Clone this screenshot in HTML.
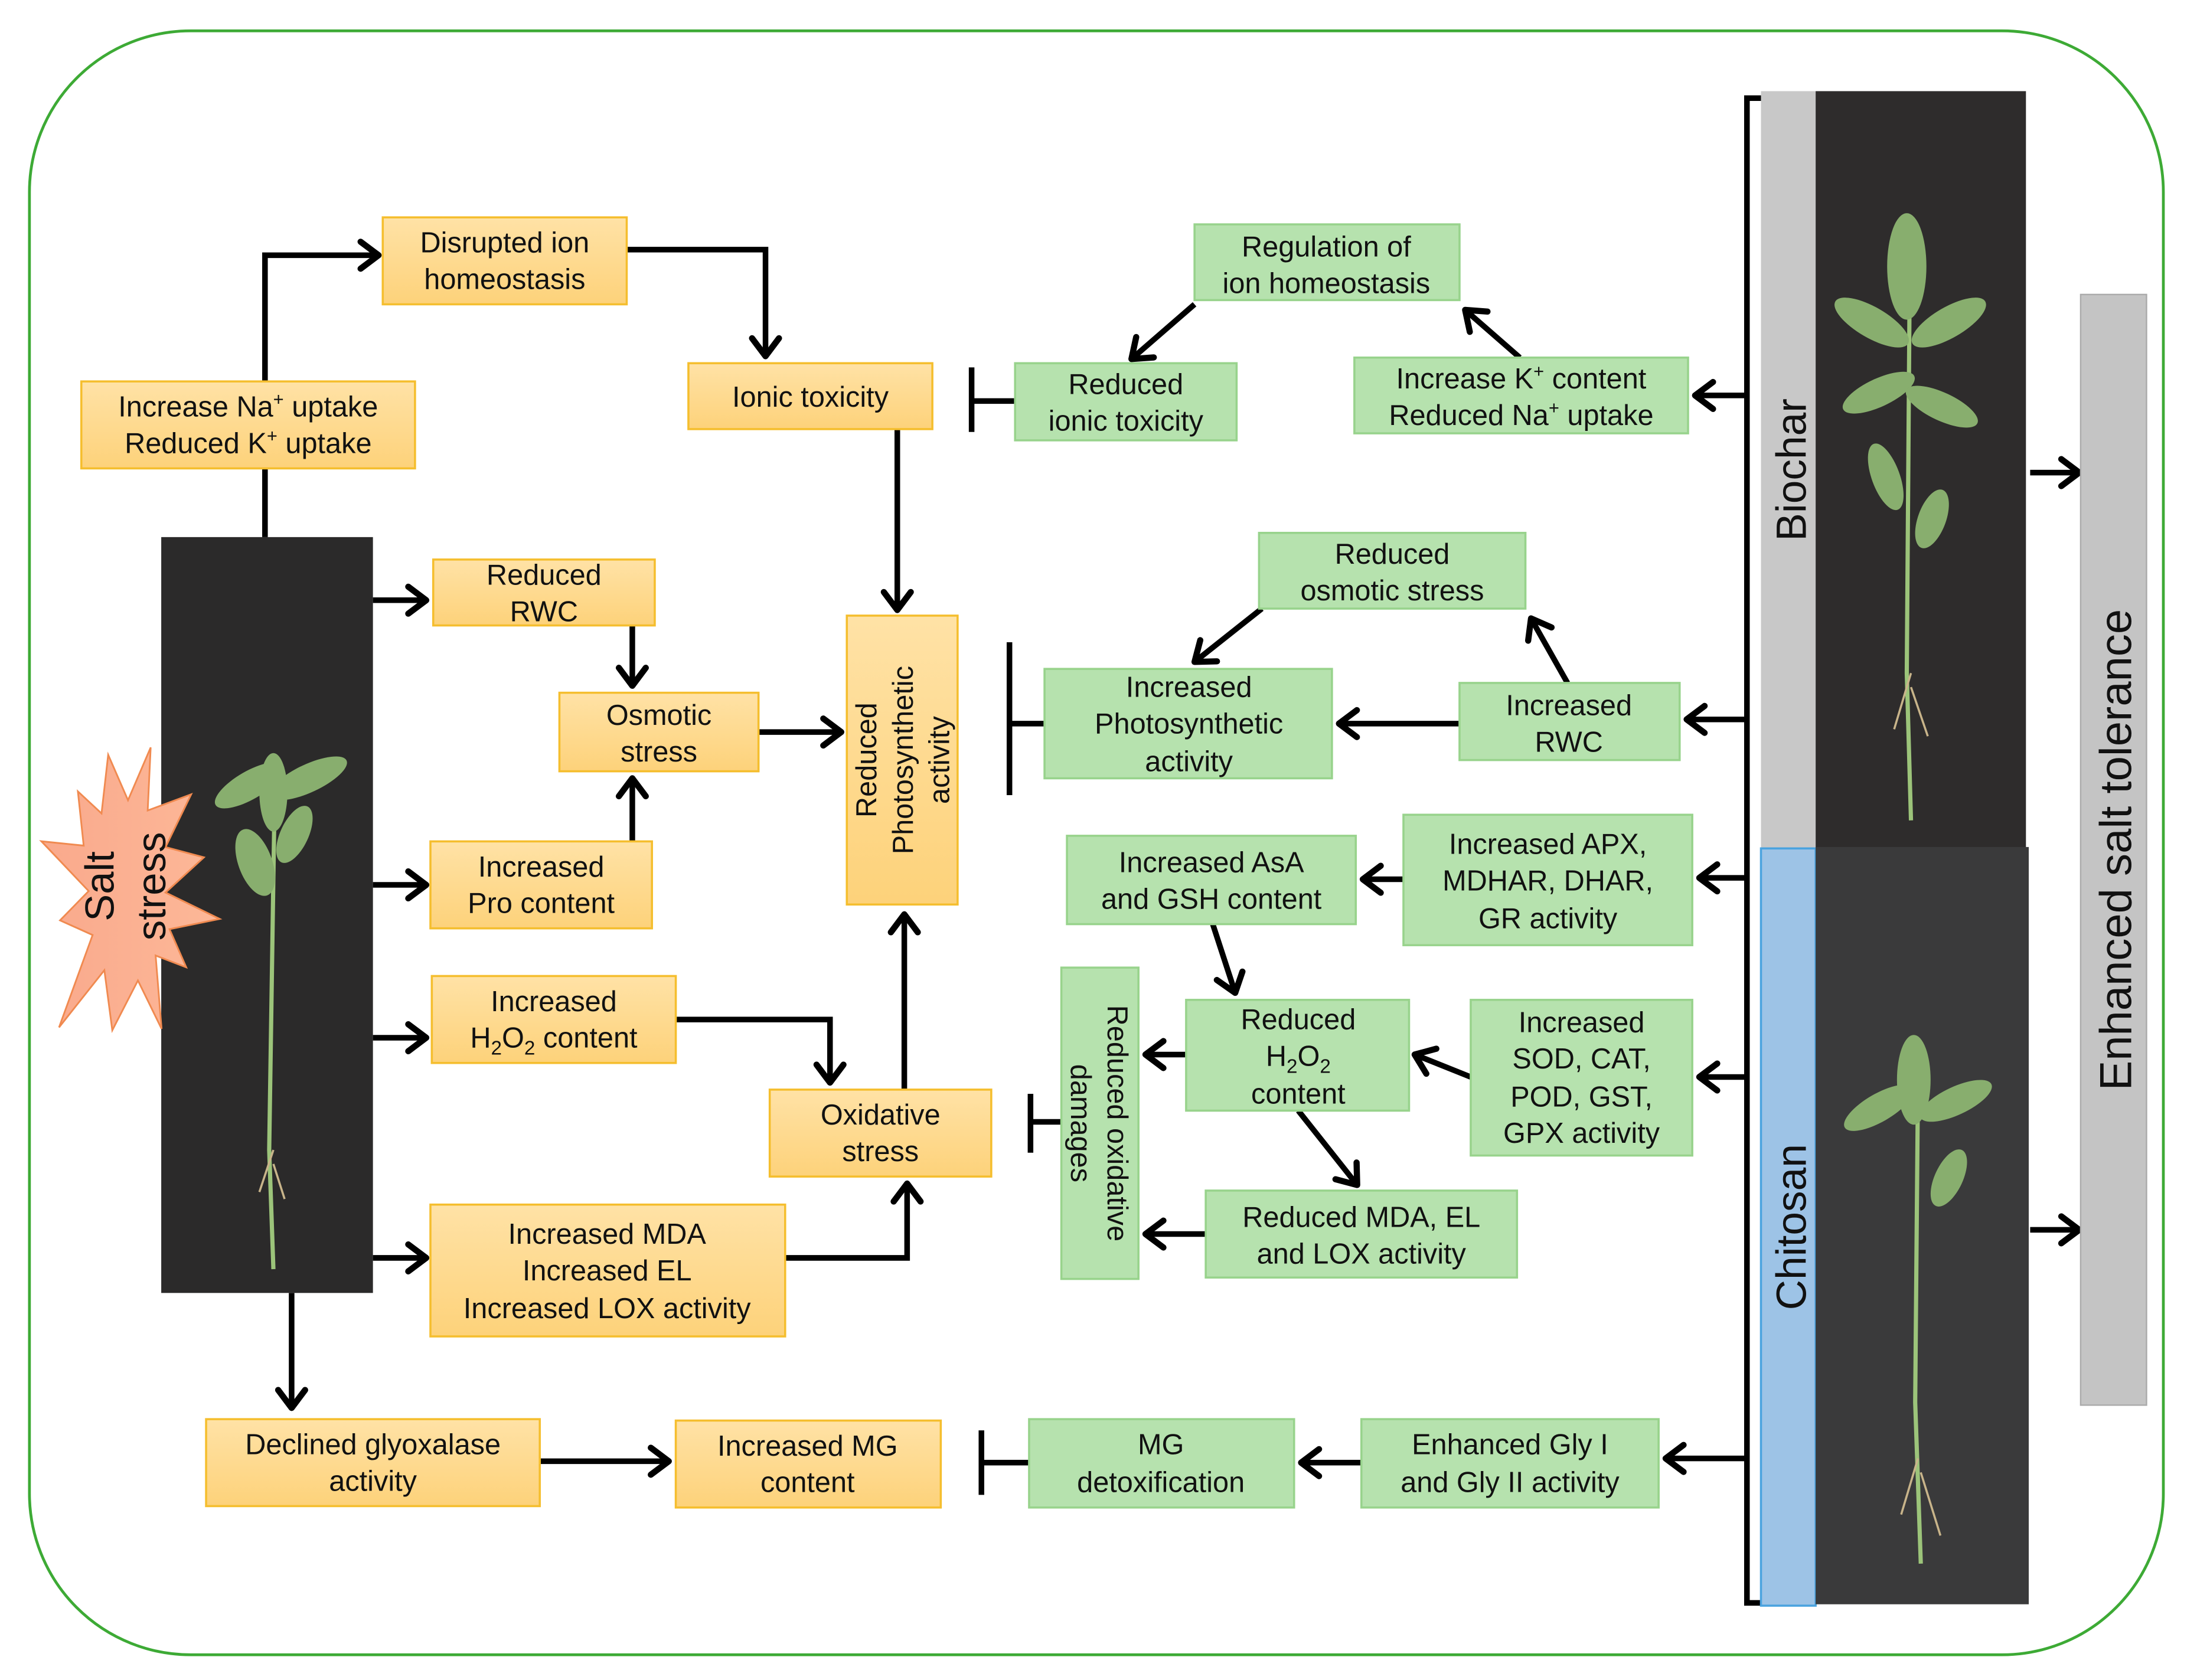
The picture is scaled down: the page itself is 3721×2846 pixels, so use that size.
<!DOCTYPE html>
<html><head><meta charset="utf-8"><style>
html,body{margin:0;padding:0;background:#fff}
svg{display:block}
text{font-family:"Liberation Sans",Arial,sans-serif;font-size:20.5px;fill:#111;text-anchor:middle}
.o{stroke:#F5BE2E;stroke-width:1.5}
.g{fill:#B6E2AE;stroke:#98D38C;stroke-width:1.5}
.a{stroke:#000;stroke-width:4;fill:none;marker-end:url(#ah)}
.l{stroke:#000;stroke-width:4;fill:none}
</style></head><body>
<svg width="3721" height="2846" viewBox="0 0 1567 1198" preserveAspectRatio="none" xmlns="http://www.w3.org/2000/svg">
<defs>
<marker id="ah" markerWidth="6" markerHeight="6" refX="4.2" refY="3" orient="auto" markerUnits="strokeWidth">
<path d="M1,0.6 L4.2,3 L1,5.4" fill="none" stroke="#000" stroke-width="1.1" stroke-linecap="round" stroke-linejoin="round"/>
</marker>
<linearGradient id="og" x1="0" y1="0" x2="0" y2="1"><stop offset="0" stop-color="#FFE2A6"/><stop offset="1" stop-color="#FDD27A"/></linearGradient>
<linearGradient id="sg" x1="0" y1="0" x2="1" y2="0"><stop offset="0" stop-color="#F9A98C"/><stop offset="1" stop-color="#FDB898"/></linearGradient>
</defs>
<rect x="21" y="22" width="1522" height="1158" rx="115" ry="115" fill="#fff" stroke="#3DAA35" stroke-width="2"/>

<!-- connectors -->
<path class="a" d="M189,383 V182 H270"/>
<path class="a" d="M447,178 H546 V254"/>
<path class="a" d="M640,306 V435"/>
<path class="a" d="M266,428 H304"/>
<path class="a" d="M451,446 V489"/>
<path class="a" d="M451,600 V555"/>
<path class="a" d="M541,522 H600"/>
<path class="a" d="M266,631 H304"/>
<path class="a" d="M266,740 H304"/>
<path class="a" d="M482,727 H592 V772"/>
<path class="a" d="M645,777 V652"/>
<path class="a" d="M266,897 H304"/>
<path class="a" d="M560,897 H647 V844"/>
<path class="a" d="M208,922 V1004"/>
<path class="a" d="M385,1042 H477"/>
<path class="l" d="M734,1043 H700 M700,1020 V1066"/>
<path class="a" d="M971,1043 H928"/>
<path class="a" d="M1245,1040 H1188"/>
<path class="a" d="M1245,768 H1212"/>
<path class="a" d="M1049,768 L1009,752"/>
<path class="a" d="M846,752 H817"/>
<path class="a" d="M926,792 L968,845"/>
<path class="a" d="M860,880 H817"/>
<path class="l" d="M757,800 H735 M735,780 V822"/>
<path class="a" d="M1245,626 H1212"/>
<path class="a" d="M1001,627 H972"/>
<path class="a" d="M865,659 L881,708"/>
<path class="a" d="M1245,513 H1203"/>
<path class="a" d="M1041,516 H955"/>
<path class="a" d="M1118,487 L1092,441"/>
<path class="a" d="M900,434 L852,472"/>
<path class="l" d="M745,516 H720 M720,458 V567"/>
<path class="a" d="M1245,282 H1209"/>
<path class="a" d="M1084,255 L1045,221"/>
<path class="a" d="M852,217 L807,256"/>
<path class="l" d="M724,286 H693 M693,262 V308"/>
<path class="a" d="M1448,337 H1483"/>
<path class="a" d="M1448,877 H1483"/>

<!-- bracket -->
<path d="M1270,70 H1246 V1143 H1270" fill="none" stroke="#000" stroke-width="4"/>
<rect x="1256" y="65" width="39" height="540" fill="#C8C8C8"/>
<rect x="1256" y="605" width="39" height="540" fill="#9DC3E6" stroke="#4AA3DF" stroke-width="1.5"/>
<text transform="translate(1288,335) rotate(-90)" style="font-size:30px">Biochar</text>
<text transform="translate(1288,875) rotate(-90)" style="font-size:30px">Chitosan</text>
<rect x="1484" y="210" width="47" height="792" fill="#C4C4C4" stroke="#AAA" stroke-width="1"/>
<text transform="translate(1520,606) rotate(-90)" style="font-size:32px">Enhanced  salt tolerance</text>

<!-- photos -->
<rect x="115" y="383" width="151" height="539" fill="#2B2A2A"/>
<rect x="1295" y="65" width="150" height="540" fill="#2E2C2C"/>
<rect x="1295" y="604" width="152" height="540" fill="#3A3A3B"/>
<g stroke="#9CC47A" stroke-width="3" fill="none">
<path d="M196,560 L192,820 L195,905"/>
<path d="M1362,210 L1360,480 L1363,585"/>
<path d="M1368,770 L1366,1000 L1370,1115"/>
</g>
<g fill="#88AE6E">
<ellipse cx="178" cy="560" rx="28" ry="10" transform="rotate(-30 178 560)"/>
<ellipse cx="220" cy="555" rx="30" ry="10" transform="rotate(-25 220 555)"/>
<ellipse cx="195" cy="565" rx="10" ry="28"/>
<ellipse cx="182" cy="615" rx="12" ry="25" transform="rotate(-20 182 615)"/>
<ellipse cx="210" cy="595" rx="10" ry="22" transform="rotate(25 210 595)"/>
<ellipse cx="1360" cy="190" rx="14" ry="38"/>
<ellipse cx="1335" cy="230" rx="30" ry="11" transform="rotate(30 1335 230)"/>
<ellipse cx="1390" cy="230" rx="30" ry="11" transform="rotate(-30 1390 230)"/>
<ellipse cx="1340" cy="280" rx="28" ry="10" transform="rotate(-25 1340 280)"/>
<ellipse cx="1385" cy="290" rx="28" ry="10" transform="rotate(25 1385 290)"/>
<ellipse cx="1345" cy="340" rx="10" ry="25" transform="rotate(-20 1345 340)"/>
<ellipse cx="1378" cy="370" rx="10" ry="22" transform="rotate(20 1378 370)"/>
<ellipse cx="1365" cy="770" rx="12" ry="32"/>
<ellipse cx="1340" cy="790" rx="28" ry="10" transform="rotate(-30 1340 790)"/>
<ellipse cx="1395" cy="785" rx="28" ry="10" transform="rotate(-25 1395 785)"/>
<ellipse cx="1390" cy="840" rx="10" ry="22" transform="rotate(25 1390 840)"/>
</g>
<g stroke="#C8B48A" stroke-width="1.5" fill="none">
<path d="M195,820 l-10,30 M195,830 l8,25 M1363,480 l-12,40 M1363,490 l12,35 M1368,1040 l-12,40 M1370,1050 l14,45"/>
</g>

<!-- salt star -->
<g transform="translate(0,533) scale(1.01,1.045) translate(0,-523)">
<polygon fill="url(#sg)" stroke="#F08A50" stroke-width="1.2" points="106.4,523 90.4,559 76.4,528 71.7,568 55,553 59.1,590 29.2,587 62.6,621 42.4,641 65.4,651 41.7,714 73.7,675 79.3,716 97.4,682 114.1,715 109.9,665 131.5,673 119.7,647 155.1,640 116.9,622 144,598 116.9,591 135,555 104.3,566"/>
</g>
<text transform="translate(81,632) rotate(-90)" style="font-size:29px">Salt</text>
<text transform="translate(118,632) rotate(-90)" style="font-size:29px">stress</text>

<!-- orange boxes -->
<g class="o" fill="url(#og)">
<rect x="273" y="155" width="174" height="62"/>
<rect x="491" y="259" width="174" height="47"/>
<rect x="58" y="272" width="238" height="62"/>
<rect x="309" y="399" width="158" height="47"/>
<rect x="399" y="494" width="142" height="56"/>
<rect x="307" y="600" width="158" height="62"/>
<rect x="308" y="696" width="174" height="62"/>
<rect x="604" y="439" width="79" height="206"/>
<rect x="549" y="777" width="158" height="62"/>
<rect x="307" y="859" width="253" height="94"/>
<rect x="147" y="1012" width="238" height="62"/>
<rect x="482" y="1013" width="189" height="62"/>
</g>
<g class="g">
<rect x="852" y="160" width="189" height="54"/>
<rect x="724" y="259" width="158" height="55"/>
<rect x="966" y="255" width="238" height="54"/>
<rect x="898" y="380" width="190" height="54"/>
<rect x="745" y="477" width="205" height="78"/>
<rect x="1041" y="487" width="157" height="55"/>
<rect x="761" y="596" width="206" height="63"/>
<rect x="1001" y="581" width="206" height="93"/>
<rect x="757" y="690" width="55" height="222"/>
<rect x="846" y="713" width="159" height="79"/>
<rect x="1049" y="713" width="158" height="111"/>
<rect x="860" y="849" width="222" height="62"/>
<rect x="734" y="1012" width="189" height="63"/>
<rect x="971" y="1012" width="212" height="63"/>
</g>

<!-- texts -->
<text x="360" y="180">Disrupted ion</text><text x="360" y="206">homeostasis</text>
<text x="578" y="290">Ionic toxicity</text>
<text x="177" y="297">Increase Na<tspan dy="-8" style="font-size:13px">+</tspan><tspan dy="8"> uptake</tspan></text>
<text x="177" y="323">Reduced K<tspan dy="-8" style="font-size:13px">+</tspan><tspan dy="8"> uptake</tspan></text>
<text x="388" y="417">Reduced</text><text x="388" y="443">RWC</text>
<text x="470" y="517">Osmotic</text><text x="470" y="543">stress</text>
<text x="386" y="625">Increased</text><text x="386" y="651">Pro content</text>
<text x="395" y="721">Increased</text><text x="395" y="747">H<tspan dy="5" style="font-size:14px">2</tspan><tspan dy="-5">O</tspan><tspan dy="5" style="font-size:14px">2</tspan><tspan dy="-5"> content</tspan></text>
<g transform="translate(643,542) rotate(-90)"><text x="0" y="-18">Reduced</text><text x="0" y="8">Photosynthetic</text><text x="0" y="34">activity</text></g>
<text x="628" y="802">Oxidative</text><text x="628" y="828">stress</text>
<text x="433" y="887">Increased MDA</text><text x="433" y="913">Increased EL</text><text x="433" y="940">Increased LOX activity</text>
<text x="266" y="1037">Declined glyoxalase</text><text x="266" y="1063">activity</text>
<text x="576" y="1038">Increased MG</text><text x="576" y="1064">content</text>

<text x="946" y="183">Regulation of</text><text x="946" y="209">ion homeostasis</text>
<text x="803" y="281">Reduced</text><text x="803" y="307">ionic toxicity</text>
<text x="1085" y="277">Increase K<tspan dy="-8" style="font-size:13px">+</tspan><tspan dy="8"> content</tspan></text>
<text x="1085" y="303">Reduced Na<tspan dy="-8" style="font-size:13px">+</tspan><tspan dy="8"> uptake</tspan></text>
<text x="993" y="402">Reduced</text><text x="993" y="428">osmotic stress</text>
<text x="848" y="497">Increased</text><text x="848" y="523">Photosynthetic</text><text x="848" y="550">activity</text>
<text x="1119" y="510">Increased</text><text x="1119" y="536">RWC</text>
<text x="864" y="622">Increased AsA</text><text x="864" y="648">and GSH content</text>
<text x="1104" y="609">Increased APX,</text><text x="1104" y="635">MDHAR,  DHAR,</text><text x="1104" y="662">GR activity</text>
<g transform="translate(784,801) rotate(90)"><text x="0" y="-6">Reduced oxidative</text><text x="0" y="20">damages</text></g>
<text x="926" y="734">Reduced</text><text x="926" y="760">H<tspan dy="5" style="font-size:14px">2</tspan><tspan dy="-5">O</tspan><tspan dy="5" style="font-size:14px">2</tspan></text><text x="926" y="787">content</text>
<text x="1128" y="736">Increased</text><text x="1128" y="762">SOD, CAT,</text><text x="1128" y="789">POD, GST,</text><text x="1128" y="815">GPX activity</text>
<text x="971" y="875">Reduced MDA, EL</text><text x="971" y="901">and LOX activity</text>
<text x="828" y="1037">MG</text><text x="828" y="1064">detoxification</text>
<text x="1077" y="1037">Enhanced Gly I</text><text x="1077" y="1064">and Gly II activity</text>
</svg>
</body></html>
